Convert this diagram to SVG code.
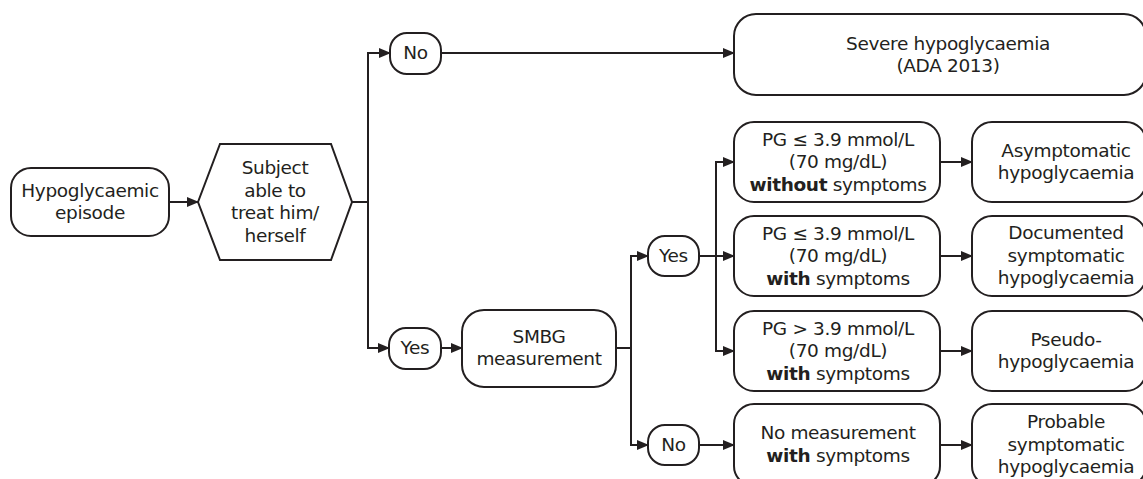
<svg xmlns="http://www.w3.org/2000/svg" width="1143" height="479" viewBox="0 0 1143 479">
<defs>
<marker id="arr" markerUnits="userSpaceOnUse" markerWidth="12" markerHeight="10" refX="11" refY="5" orient="auto">
<path d="M0,0 L12,5 L0,10 z" fill="#231f20"/>
</marker>
<style>
.box{fill:#fff;stroke:#231f20;stroke-width:2}
.ln{fill:none;stroke:#231f20;stroke-width:2}
.ar{fill:none;stroke:#231f20;stroke-width:2;marker-end:url(#arr)}
text{font-family:"DejaVu Sans","Verdana",sans-serif;font-size:18.5px;letter-spacing:-0.35px;fill:#231f20;text-anchor:middle}
.b{font-weight:bold}
</style>
</defs>
<rect width="1143" height="479" fill="#fff"/>
<g id="connectors">
<line class="ar" x1="169" y1="202" x2="198" y2="202"/>
<line class="ln" x1="352" y1="202" x2="368" y2="202"/>
<line class="ln" x1="368" y1="53" x2="368" y2="348"/>
<line class="ar" x1="367" y1="53" x2="390" y2="53"/>
<line class="ar" x1="441" y1="53" x2="734" y2="53"/>
<line class="ar" x1="367" y1="348" x2="389" y2="348"/>
<line class="ar" x1="441" y1="348" x2="462" y2="348"/>
<line class="ln" x1="616" y1="348" x2="631" y2="348"/>
<line class="ln" x1="631" y1="256" x2="631" y2="445"/>
<line class="ar" x1="630" y1="256" x2="648" y2="256"/>
<line class="ar" x1="630" y1="445" x2="648" y2="445"/>
<line class="ar" x1="699" y1="256" x2="734" y2="256"/>
<line class="ln" x1="716" y1="162" x2="716" y2="351"/>
<line class="ar" x1="715" y1="162" x2="734" y2="162"/>
<line class="ar" x1="715" y1="351" x2="734" y2="351"/>
<line class="ar" x1="699" y1="445" x2="734" y2="445"/>
<line class="ar" x1="940" y1="162" x2="972" y2="162"/>
<line class="ar" x1="940" y1="256" x2="972" y2="256"/>
<line class="ar" x1="940" y1="351" x2="972" y2="351"/>
<line class="ar" x1="940" y1="445" x2="972" y2="445"/>
</g>
<g id="n-episode">
<rect class="box" x="11" y="168" width="158" height="68" rx="20"/>
<text x="90" y="197">Hypoglycaemic</text>
<text x="90" y="219">episode</text>
</g>
<g id="n-able">
<polygon class="box" points="198,202 220,144 331,144 352,202 331,260 220,260"/>
<text x="275" y="174">Subject</text>
<text x="275" y="197">able to</text>
<text x="275" y="219">treat him/</text>
<text x="275" y="242">herself</text>
</g>
<g id="n-no1">
<rect class="box" x="390" y="33" width="51" height="41" rx="17"/>
<text x="415.5" y="59">No</text>
</g>
<g id="n-severe">
<rect class="box" x="734" y="14" width="412" height="81" rx="22"/>
<text x="948" y="50">Severe hypoglycaemia</text>
<text x="948" y="72">(ADA 2013)</text>
</g>
<g id="n-yes1">
<rect class="box" x="389" y="328" width="52" height="41" rx="17"/>
<text x="415" y="354">Yes</text>
</g>
<g id="n-smbg">
<rect class="box" x="462" y="310" width="154" height="77" rx="22"/>
<text x="539" y="343">SMBG</text>
<text x="539" y="365">measurement</text>
</g>
<g id="n-yes2">
<rect class="box" x="648" y="236" width="51" height="40" rx="17"/>
<text x="673.5" y="262">Yes</text>
</g>
<g id="n-no2">
<rect class="box" x="648" y="425" width="51" height="40" rx="17"/>
<text x="673.5" y="451">No</text>
</g>
<g id="n-pg1">
<rect class="box" x="734" y="122" width="206" height="80" rx="20"/>
<text x="838" y="146">PG ≤ 3.9 mmol/L</text>
<text x="838" y="168">(70 mg/dL)</text>
<text x="838" y="191"><tspan class="b">without</tspan> symptoms</text>
</g>
<g id="n-pg2">
<rect class="box" x="734" y="216" width="206" height="80" rx="20"/>
<text x="838" y="240">PG ≤ 3.9 mmol/L</text>
<text x="838" y="262">(70 mg/dL)</text>
<text x="838" y="285"><tspan class="b">with</tspan> symptoms</text>
</g>
<g id="n-pg3">
<rect class="box" x="734" y="311" width="206" height="80" rx="20"/>
<text x="838" y="335">PG &gt; 3.9 mmol/L</text>
<text x="838" y="357">(70 mg/dL)</text>
<text x="838" y="380"><tspan class="b">with</tspan> symptoms</text>
</g>
<g id="n-nomeas">
<rect class="box" x="734" y="404" width="206" height="82" rx="20"/>
<text x="838" y="439">No measurement</text>
<text x="838" y="462"><tspan class="b">with</tspan> symptoms</text>
</g>
<g id="n-asym">
<rect class="box" x="972" y="122" width="174" height="80" rx="20"/>
<text x="1066" y="157">Asymptomatic</text>
<text x="1066" y="179">hypoglycaemia</text>
</g>
<g id="n-doc">
<rect class="box" x="972" y="216" width="174" height="80" rx="20"/>
<text x="1066" y="239">Documented</text>
<text x="1066" y="262">symptomatic</text>
<text x="1066" y="284">hypoglycaemia</text>
</g>
<g id="n-pseudo">
<rect class="box" x="972" y="311" width="174" height="80" rx="20"/>
<text x="1066" y="346">Pseudo-</text>
<text x="1066" y="368">hypoglycaemia</text>
</g>
<g id="n-prob">
<rect class="box" x="972" y="404" width="174" height="82" rx="20"/>
<text x="1066" y="428">Probable</text>
<text x="1066" y="451">symptomatic</text>
<text x="1066" y="473">hypoglycaemia</text>
</g>
</svg>
